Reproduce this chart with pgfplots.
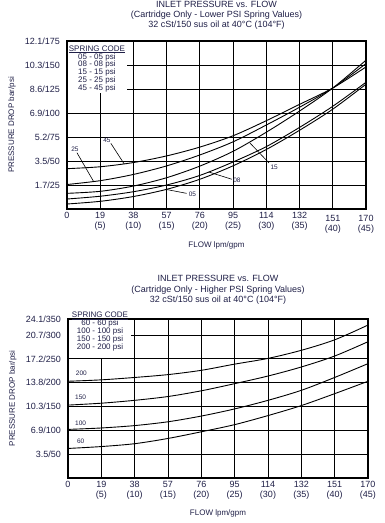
\documentclass[border=0pt]{standalone}
\usepackage{fontspec}
\setmainfont{Liberation Sans}
\usepackage{pgfplots}
\pgfplotsset{compat=1.18}
\definecolor{txt}{rgb}{0.12,0.12,0.28}
\pgfplotsset{
 chart/.style={
  scale only axis, clip=false,
  xmin=0, xmax=45,
  xtick={0,5,...,45},
  xticklabels={0,{19\\(5)},{38\\(10)},{57\\(15)},{76\\(20)},{95\\(25)},{114\\(30)},{132\\(35)},{151\\(40)},{170\\(45)}},
  major tick length=0pt,
  grid=major,
  major grid style={black, line width=0.95pt},
  axis line style={line width=1.2pt},
  tick label style={font=\fontsize{9}{10}\selectfont, text=txt},
  xticklabel style={align=center, inner sep=0pt, yshift=-3pt},
  yticklabel style={inner sep=0pt, xshift=-7pt},
  every axis plot post/.append style={black, line width=0.9pt, smooth, mark=none},
  title style={font=\fontsize{9}{10.3}\selectfont, text=txt, align=center, anchor=south, inner sep=0pt, at={(0.5,1)}},
  label style={font=\fontsize{8}{9}\selectfont, text=txt},
 },
}
\tikzset{
 clab/.style={font=\fontsize{6.5}{7}\selectfont, text=txt, inner sep=0pt},
 lead/.style={black, line width=0.6pt},
}
\begin{document}
\begin{tikzpicture}
\path[use as bounding box] (0,0) rectangle (385pt,523pt);
% ---------------- top chart ----------------
\begin{axis}[chart, width=299pt, height=168pt, at={(67pt,314pt)}, anchor=south west,
 xticklabels={0,{19\\(5)},{38\\(10)},{57\\(15)},{76\\(20)},{95\\(25)},{114\\(30)},{132\\(35)},{\rule{0pt}{9.5pt}151\\(40)},{\rule{0pt}{9.5pt}170\\(45)}},
 ymin=0, ymax=175, ytick={25,50,...,175},
 yticklabels={1.7/25,3.5/50,5.2/75,6.9/100,8.6/125,10.3/150,12.1/175},
 title={INLET PRESSURE vs. FLOW\\(Cartridge Only - Lower PSI Spring Values)\\32 cSt/150 sus oil at 40°C (104°F)},
 title style={yshift=5pt},
 xlabel={FLOW lpm/gpm}, xlabel style={at={(axis description cs:0.5,-0.214)}, anchor=center},
 ylabel={PRESSURE DROP bar/psi}, ylabel style={at={(axis description cs:-0.184,0.5)}, anchor=center}]
\addplot coordinates {(0,5.2)(5,8)(10,13)(15,20.5)(20,31)(25,45)(30,62)(35,82)(40,104)(45,130)};
\addplot coordinates {(0,10.4)(5,13.3)(10,18)(15,25)(20,35)(25,49)(30,65)(35,85)(40,107)(45,132)};
\addplot coordinates {(0,16.3)(5,18.4)(10,23.9)(15,32.6)(20,44.7)(25,60.1)(30,80)(35,102)(40,126)(45,155)};
\addplot coordinates {(0,25.5)(5,29.5)(10,36)(15,44.9)(20,56.3)(25,70)(30,87.5)(35,106)(40,126)(45,151.5)};
\addplot coordinates {(0,42)(5,44)(10,48.4)(15,55.3)(20,64.5)(25,76.3)(30,92)(35,109)(40,126)(45,148)};
% legend box
\fill[white] (axis cs:0,121) rectangle (axis cs:9,175);
\draw[line width=1.2pt] (rel axis cs:0,0) rectangle (rel axis cs:1,1);
\node[anchor=north, align=center, inner sep=0pt, font=\fontsize{8}{7.9}\selectfont, text=txt] at (axis cs:4.5,170.4)
 {\underline{SPRING CODE}\\05 - 05 psi\\08 - 08 psi\\15 - 15 psi\\25 - 25 psi\\45 - 45 psi};
% curve labels
\draw[lead] (axis cs:6.6,68.4) -- (axis cs:8.6,47);
\node[clab] at (axis cs:6.0,71.1) {45};
\draw[lead] (axis cs:1.5,58.6) -- (axis cs:4.0,28.7);
\node[clab] at (axis cs:1.2,62.5) {25};
\draw[lead] (axis cs:14.9,20.4) -- (axis cs:18.0,16.3);
\node[clab, anchor=west] at (axis cs:18.3,15.3) {05};
\draw[lead] (axis cs:21.3,38.6) -- (axis cs:24.8,31);
\node[clab, anchor=west] at (axis cs:25.0,30.2) {08};
\draw[lead] (axis cs:27.5,69) -- (axis cs:30.4,48);
\node[clab, anchor=west] at (axis cs:30.6,43) {15};
\end{axis}
% ---------------- bottom chart ----------------
\begin{axis}[chart, width=300pt, height=159pt, at={(68pt,45pt)}, anchor=south west,
 ymin=0, ymax=333.7, ytick={50,100,150,200,250,300,333.7},
 yticklabels={3.5/50,6.9/100,10.3/150,13.8/200,17.2/250,20.7/300,24.1/350},
 title={INLET PRESSURE vs. FLOW\\(Cartridge Only - Higher PSI Spring Values)\\32 cSt/150 sus oil at 40°C (104°F)},
 title style={yshift=8.5pt},
 xlabel={FLOW lpm/gpm}, xlabel style={at={(axis description cs:0.5,-0.22)}, anchor=center},
 ylabel={PRESSURE DROP bar/psi}, ylabel style={at={(axis description cs:-0.184,0.5)}, anchor=center}]
\addplot coordinates {(0,62)(5,66)(10,72)(15,83)(20,97)(25,112)(30,131)(35,152)(40,177)(45,203)};
\addplot coordinates {(0,102)(5,105)(10,110)(15,118)(20,130)(25,145)(30,163)(35,184)(40,211)(45,240)};
\addplot coordinates {(0,153)(5,157)(10,163)(15,171)(20,183)(25,198)(30,214)(35,233)(40,256)(45,286)};
\addplot coordinates {(0,203)(5,206)(10,211)(15,217)(20,226)(25,239)(30,251)(35,268)(40,290)(45,321)};
\fill[white] (axis cs:0,251) rectangle (axis cs:9.4,333.7);
\draw[line width=1.2pt] (rel axis cs:0,0) rectangle (rel axis cs:1,1);
\node[anchor=north, align=center, inner sep=0pt, font=\fontsize{8}{8}\selectfont, text=txt] at (axis cs:4.8,348.4)
 {\underline{SPRING CODE}\\60 - 60 psi\\100 - 100 psi\\150 - 150 psi\\200 - 200 psi};
\node[clab] at (axis cs:2.0,219.5) {200};
\node[clab] at (axis cs:1.9,169) {150};
\node[clab] at (axis cs:1.9,114.4) {100};
\node[clab] at (axis cs:1.9,77) {60};
\end{axis}
\end{tikzpicture}
\end{document}
